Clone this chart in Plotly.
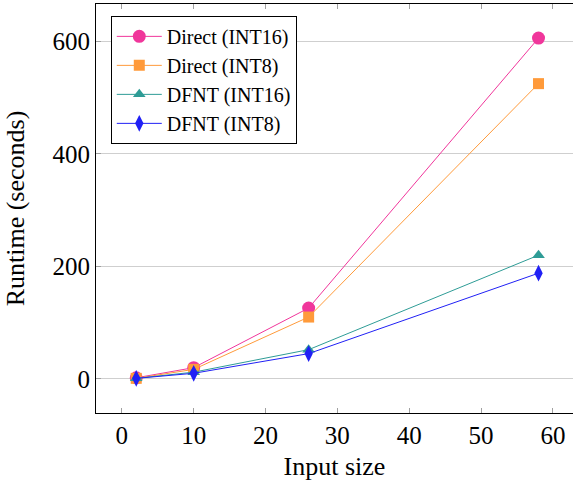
import plotly.graph_objects as go

input_size = [2, 10, 26, 58]
direct_int16 = [2, 20, 126, 606]
direct_int8 = [1, 17, 110, 525]
dfnt_int16 = [1, 12, 52, 220]
dfnt_int8 = [1, 10, 45, 188]

series = [
    ("Direct (INT16)", direct_int16, "#F0369B", "circle", 13),
    ("Direct (INT8)", direct_int8, "#FF9A3A", "square", 11),
    ("DFNT (INT16)", dfnt_int16, "#2E9C96", "triangle-up", 11),
    ("DFNT (INT8)", dfnt_int8, "#2020F5", "diamond-tall", 12),
]

fig = go.Figure()
for name, ys, color, sym, size in series:
    fig.add_trace(go.Scatter(
        x=input_size, y=ys, name=name, mode="lines+markers",
        line=dict(color=color, width=1),
        marker=dict(symbol=sym, size=size, color=color, line=dict(width=0)),
    ))

font = "Liberation Serif, Times New Roman, serif"
fig.update_layout(
    width=573, height=486,
    margin=dict(l=96, r=0, t=4, b=73),
    plot_bgcolor="white", paper_bgcolor="white",
    font=dict(family=font, size=24, color="black"),
    showlegend=True,
    legend=dict(
        x=0.031, y=0.971, xanchor="left", yanchor="top",
        bgcolor="white", bordercolor="black", borderwidth=1,
        font=dict(family=font, size=20, color="black"),
        tracegroupgap=0, itemwidth=45,
    ),
    xaxis=dict(
        range=[-3.6, 62.8], tickvals=[0, 10, 20, 30, 40, 50, 60],
        showgrid=False, zeroline=False,
        showline=True, linecolor="black", linewidth=1, mirror="ticks",
        ticks="inside", ticklen=5, tickcolor="#a0a0a0", tickwidth=1,
        tickfont=dict(family=font, size=25),
        title=dict(text="Input size", font=dict(family=font, size=26), standoff=8),
    ),
    yaxis=dict(
        range=[-60.6, 666.6], tickvals=[0, 200, 400, 600],
        showgrid=True, gridcolor="#cfcfcf", gridwidth=1, zeroline=False,
        showline=True, linecolor="black", linewidth=1, mirror=False,
        ticks="inside", ticklen=5, tickcolor="#a0a0a0", tickwidth=1,
        tickfont=dict(family=font, size=25),
        title=dict(text="Runtime (seconds)", font=dict(family=font, size=26), standoff=20),
    ),
)

fig.write_html("out.html")
